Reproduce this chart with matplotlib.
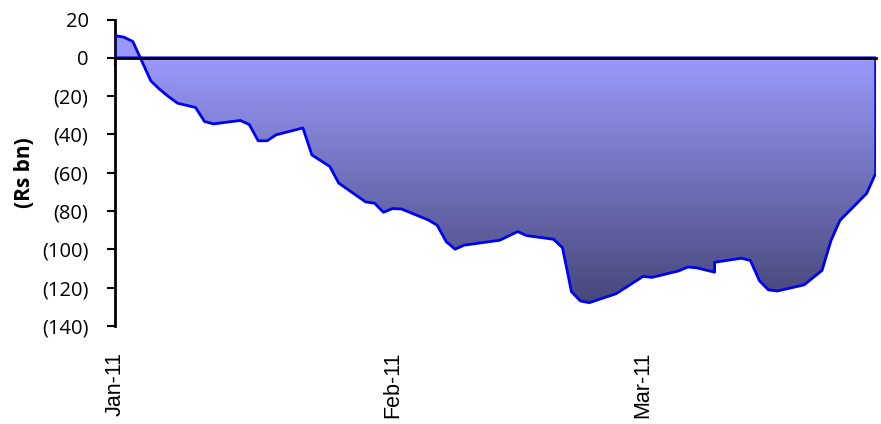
import numpy as np
import pandas as pd
import matplotlib
matplotlib.use("Agg")
import matplotlib.pyplot as plt
import matplotlib.dates as mdates
from matplotlib.colors import LinearSegmentedColormap
from matplotlib.ticker import FuncFormatter

# Daily liquidity position (Rs bn)
dates = ["2011-01-01", "2011-01-02", "2011-01-03", "2011-01-05", "2011-01-06",
         "2011-01-07", "2011-01-08", "2011-01-10", "2011-01-11", "2011-01-12",
         "2011-01-15", "2011-01-16", "2011-01-17", "2011-01-18", "2011-01-19",
         "2011-01-22", "2011-01-23", "2011-01-25", "2011-01-26", "2011-01-29",
         "2011-01-30", "2011-01-31", "2011-02-01", "2011-02-02", "2011-02-05",
         "2011-02-06", "2011-02-07", "2011-02-08", "2011-02-09", "2011-02-13",
         "2011-02-15", "2011-02-16", "2011-02-19", "2011-02-20", "2011-02-21",
         "2011-02-22", "2011-02-23", "2011-02-26", "2011-03-01", "2011-03-02",
         "2011-03-05", "2011-03-06", "2011-03-07", "2011-03-09", "2011-03-09",
         "2011-03-12", "2011-03-13", "2011-03-14", "2011-03-15", "2011-03-16",
         "2011-03-19", "2011-03-21", "2011-03-22", "2011-03-23", "2011-03-26",
         "2011-03-27"]
values = [11.6, 10.8, 8.5, -12.0, -16.5,
          -20.3, -23.7, -25.9, -33.2, -34.5,
          -32.7, -34.8, -43.3, -43.3, -40.2,
          -36.6, -50.7, -56.7, -65.4, -75.2,
          -75.9, -80.6, -78.7, -78.9, -84.6,
          -87.4, -95.9, -99.9, -97.8, -95.2,
          -90.7, -92.8, -94.7, -99.1, -122.0,
          -126.9, -127.8, -123.1, -114.1, -114.6,
          -111.2, -109.2, -109.6, -111.9, -106.7,
          -104.6, -105.8, -116.3, -121.1, -121.7,
          -118.5, -111.0, -95.4, -84.9, -70.7,
          -60.2]
month_ticks = ["2011-01-01", "2011-02-01", "2011-03-01"]
month_labels = ["Jan-11", "Feb-11", "Mar-11"]
y_ticks = [20, 0, -20, -40, -60, -80, -100, -120, -140]

x = mdates.date2num(pd.to_datetime(dates))
y = np.array(values)
xt = mdates.date2num(pd.to_datetime(month_ticks))

fig = plt.figure(figsize=(8.81, 4.24), dpi=100)
ax = fig.add_axes([0.1305, 0.231, 0.8635, 0.723])

# area outline, then a vertical gradient clipped to it
area = ax.fill_between(x, y, 0, facecolor="none", edgecolor="#0000f5",
                       linewidth=2, zorder=3)
cmap = LinearSegmentedColormap.from_list("fill", ["#9999fb", "#47477a"])
grad = np.linspace(0, 1, 256).reshape(-1, 1)
img = ax.imshow(grad, cmap=cmap, aspect="auto", origin="upper",
                extent=[x[0], x[-1], min(values), 0], zorder=2)
top = ax.imshow([[0]], cmap=cmap, vmin=0, vmax=1, aspect="auto",
                extent=[x[0], x[-1], 0, max(values)], zorder=2)
clip = area.get_paths()[0]
img.set_clip_path(clip, transform=ax.transData)
top.set_clip_path(clip, transform=ax.transData)

ax.set_xlim(x[0], x[-1])
ax.set_ylim(-140, 20)

# y axis
ax.set_yticks(y_ticks)
ax.yaxis.set_major_formatter(FuncFormatter(
    lambda v, p: f"({abs(int(v))})" if v < 0 else f"{int(v)}"))
ax.tick_params(axis="y", direction="out", length=6, width=1.5, pad=13,
               labelsize=14.5)
for lab in ax.get_yticklabels():
    lab.set_family("Open Sans")
ax.set_ylabel("(Rs bn)", fontsize=15, fontweight="bold", family="Open Sans")
ax.yaxis.set_label_coords(-0.105, 0.5)

# x axis sits on zero, labels hang below the plot
for s in ["top", "right"]:
    ax.spines[s].set_visible(False)
ax.spines["left"].set_linewidth(2)
ax.spines["bottom"].set_position(("data", 0))
ax.spines["bottom"].set_linewidth(2)
ax.spines["bottom"].set_zorder(4)
ax.set_xticks(xt)
ax.tick_params(axis="x", direction="out", length=6, width=1.5,
               labelbottom=False)
for t, lab in zip(xt, month_labels):
    ax.text(t, -0.085, lab, rotation=90, ha="center", va="top",
            fontsize=15.5, family="Liberation Sans",
            transform=ax.get_xaxis_transform())

fig.savefig("out.png", dpi=100)
